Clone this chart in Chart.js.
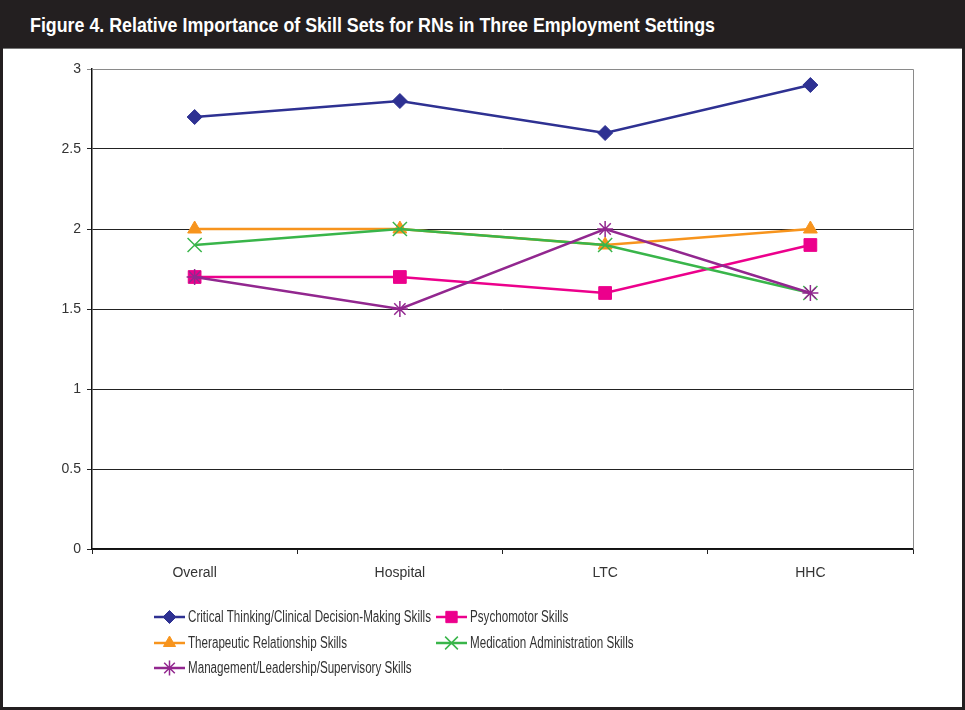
<!DOCTYPE html>
<html>
<head>
<meta charset="utf-8">
<script src="https://cdn.jsdelivr.net/npm/chart.js@4/dist/chart.umd.min.js"></script>
<style>
  html, body { margin: 0; padding: 0; background: #fff; }
  #frame { position: relative; width: 965px; height: 710px; background: #231f20; overflow: hidden; }
  #title {
    position: absolute; left: 30px; top: 10px; height: 30px; line-height: 30px;
    color: #fff; font-family: "Liberation Sans", Arial, sans-serif;
    font-weight: bold; font-size: 21px; white-space: nowrap;
    transform-origin: 0 50%;
  }
  #box { position: absolute; left: 3px; top: 48px; width: 959px; height: 659px; background: #fff; border-top: 1px solid #777; box-sizing: border-box; }
  #box canvas { display: block; }
</style>
</head>
<body>
<div id="frame">
  <div id="title">Figure 4. Relative Importance of Skill Sets for RNs in Three Employment Settings</div>
  <div id="box"><canvas id="chart" width="959" height="658"></canvas></div>
</div>
<script>
// Employment settings along the x axis
const categories = ['Overall', 'Hospital', 'LTC', 'HHC'];

// Mean importance rating per skill set
const criticalThinking = [2.7, 2.8, 2.6, 2.9];
const psychomotor      = [1.7, 1.7, 1.6, 1.9];
const therapeutic      = [2.0, 2.0, 1.9, 2.0];
const medication       = [1.9, 2.0, 1.9, 1.6];
const management       = [1.7, 1.5, 2.0, 1.6];

const seriesNames = [
  'Critical Thinking/Clinical Decision-Making Skills',
  'Psychomotor Skills',
  'Therapeutic Relationship Skills',
  'Medication Administration Skills',
  'Management/Leadership/Supervisory Skills'
];

const FONT = '"Liberation Sans", Arial, sans-serif';

// Narrow the heading so it reads like a condensed face
(function () {
  const t = document.getElementById('title');
  const w = t.getBoundingClientRect().width;
  t.style.transform = 'scaleX(' + (685 / w) + ')';
})();

const styles = [
  { color: '#2e3192', pointStyle: 'rectRot',  radius: 7.5, legendRadius: 6.5, width: 2.5 },
  { color: '#ec008c', pointStyle: 'rect',     radius: 9,   legendRadius: 8,   width: 2.5 },
  { color: '#f7941d', pointStyle: 'triangle', radius: 8,   legendRadius: 7,   width: 2.5 },
  { color: '#39b54a', pointStyle: 'crossRot', radius: 10,  legendRadius: 9,   width: 2.5 },
  { color: '#92278f', pointStyle: 'star',     radius: 8,   legendRadius: 7.5, width: 2.5 }
];

const values = [criticalThinking, psychomotor, therapeutic, medication, management];

const datasets = values.map((data, i) => {
  const s = styles[i];
  const hollow = s.pointStyle === 'crossRot' || s.pointStyle === 'star';
  return {
    label: seriesNames[i],
    data: data,
    borderColor: s.color,
    backgroundColor: s.color,
    borderWidth: s.width,
    pointStyle: s.pointStyle,
    pointRadius: s.radius,
    pointHoverRadius: s.radius,
    pointBorderWidth: hollow ? 1.5 : 1,
    pointBackgroundColor: s.color,
    pointBorderColor: s.color,
    tension: 0,
    fill: false,
    order: values.length - i
  };
});

// Legend laid out in two columns below the axis
const legendSlots = [
  { x: 151, y: 568 },
  { x: 433, y: 568 },
  { x: 151, y: 594 },
  { x: 433, y: 594 },
  { x: 151, y: 619 }
];

const gridLegend = {
  id: 'gridLegend',
  afterDraw(chart) {
    const ctx = chart.ctx;
    const area = chart.chartArea;
    ctx.save();
    // grey frame on top and right of the plot
    ctx.strokeStyle = '#8a8a8a';
    ctx.lineWidth = 1;
    ctx.beginPath();
    ctx.moveTo(area.left, Math.round(area.top) + 0.5);
    ctx.lineTo(Math.round(area.right) + 0.5, Math.round(area.top) + 0.5);
    ctx.lineTo(Math.round(area.right) + 0.5, area.bottom);
    ctx.stroke();

    ctx.font = '16px ' + FONT;
    ctx.textBaseline = 'middle';
    ctx.textAlign = 'left';
    // condensed look: squeeze the longest entry to its column width
    const squeeze = 243 / ctx.measureText(chart.data.datasets[0].label).width;
    chart.data.datasets.forEach((ds, i) => {
      const slot = legendSlots[i];
      const s = styles[i];
      ctx.strokeStyle = s.color;
      ctx.fillStyle = s.color;
      ctx.lineWidth = 2.5;
      ctx.beginPath();
      ctx.moveTo(slot.x, slot.y);
      ctx.lineTo(slot.x + 31, slot.y);
      ctx.stroke();
      const hollow = s.pointStyle === 'crossRot' || s.pointStyle === 'star';
      ctx.lineWidth = hollow ? 1.5 : 1;
      Chart.helpers.drawPoint(ctx, {
        pointStyle: s.pointStyle, radius: s.legendRadius, rotation: 0, borderWidth: ctx.lineWidth
      }, slot.x + 15.5, slot.y);
      ctx.fillStyle = '#333';
      ctx.save();
      ctx.translate(slot.x + 34, slot.y + 1);
      ctx.scale(squeeze, 1);
      ctx.fillText(ds.label, 0, 0);
      ctx.restore();
    });
    ctx.restore();
  }
};

new Chart(document.getElementById('chart'), {
  type: 'line',
  data: { labels: categories, datasets: datasets },
  options: {
    responsive: false,
    animation: false,
    events: [],
    layout: { padding: { top: 20, right: 49, left: 0, bottom: 0 } },
    plugins: {
      legend: { display: false },
      tooltip: { enabled: false },
      title: { display: false }
    },
    scales: {
      x: {
        offset: true,
        grid: {
          offset: true,
          drawOnChartArea: false,
          drawTicks: true,
          tickLength: 5,
          color: '#222'
        },
        border: { color: '#111', width: 1.5 },
        ticks: {
          color: '#333',
          font: { family: FONT, size: 14 },
          padding: 11,
          maxRotation: 0
        },
        afterFit(scale) { scale.height = 158; }
      },
      y: {
        min: 0,
        max: 3,
        ticks: {
          stepSize: 0.5,
          color: '#333',
          font: { family: FONT, size: 14 },
          padding: 6,
          callback: (v) => String(v)
        },
        grid: {
          color: (c) => (c.tick && c.tick.value === 3) ? '#8a8a8a' : '#222',
          lineWidth: 1,
          tickLength: 5
        },
        border: { color: '#111', width: 1.5 },
        afterFit(scale) { scale.width = 89; }
      }
    }
  },
  plugins: [gridLegend]
});
</script>
</body>
</html>
